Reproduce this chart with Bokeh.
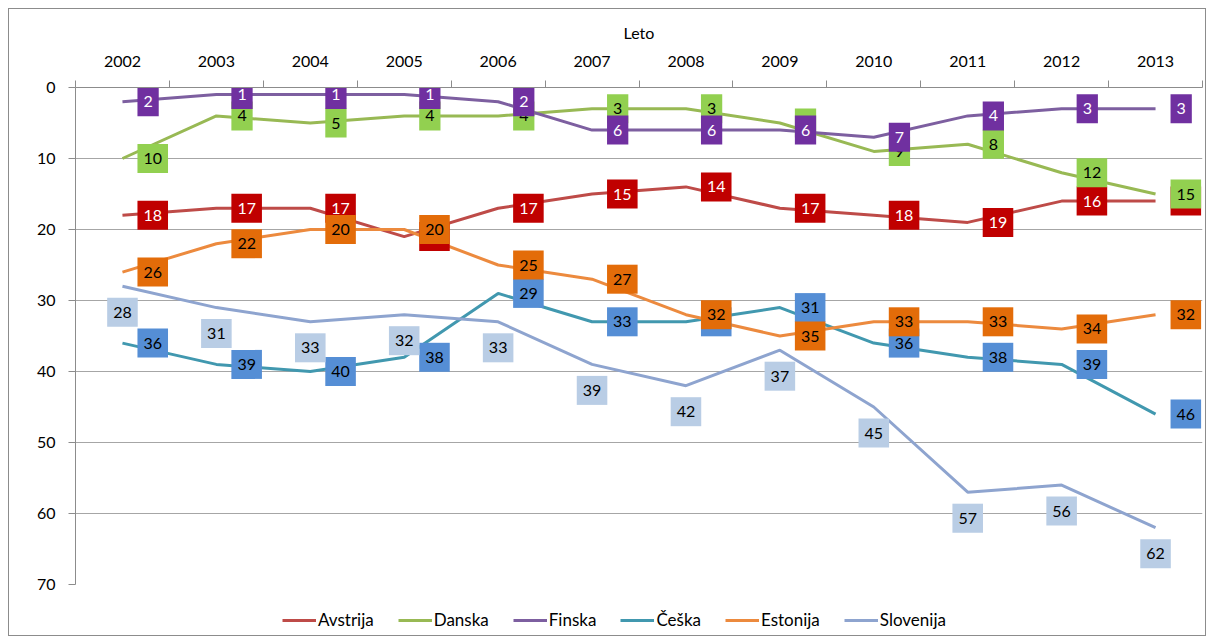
from bokeh.plotting import figure
from bokeh.layouts import column
from bokeh.models import Range1d, FixedTicker, Legend, LegendItem, ColumnDataSource
from bokeh.core.properties import value
from bokeh.embed import file_html
from bokeh.resources import INLINE

years = ["2002", "2003", "2004", "2005", "2006", "2007", "2008", "2009", "2010", "2011", "2012", "2013"]
avstrija = [18, 17, 17, 21, 17, 15, 14, 17, 18, 19, 16, 16]
danska = [10, 4, 5, 4, 4, 3, 3, 5, 9, 8, 12, 15]
finska = [2, 1, 1, 1, 2, 6, 6, 6, 7, 4, 3, 3]
ceska = [36, 39, 40, 38, 29, 33, 33, 31, 36, 38, 39, 46]
estonija = [26, 22, 20, 20, 25, 27, 32, 35, 33, 33, 34, 32]
slovenija = [28, 31, 33, 32, 33, 39, 42, 37, 45, 57, 56, 62]

series = [
    ("Avstrija", avstrija, "#BE4B48", "#C00000", "white"),
    ("Danska", danska, "#98B954", "#92D050", "black"),
    ("Finska", finska, "#7D5FA0", "#7030A0", "white"),
    ("Češka", ceska, "#4198AF", "#558ED5", "black"),
    ("Estonija", estonija, "#EC8A3E", "#E36C09", "black"),
    ("Slovenija", slovenija, "#8EA4CF", "#B9CDE5", "black"),
]

xs = list(range(len(years)))
FONT = "Lato"

p = figure(frame_width=1127, frame_height=497, output_backend="svg", toolbar_location=None,
           x_range=Range1d(-0.5, len(years) - 0.5), y_range=Range1d(70, 0),
           x_axis_location="above", min_border_left=66, min_border_right=3,
           min_border_top=78, min_border_bottom=10)
p.outline_line_color = None
p.background_fill_color = "white"
p.border_fill_color = "white"

# x axis (top)
xa = p.xaxis[0]
xa.ticker = FixedTicker(ticks=xs, minor_ticks=[i - 0.5 for i in range(len(years) + 1)])
xa.major_label_overrides = {i: y for i, y in enumerate(years)}
xa.major_tick_out = 0
xa.major_tick_in = 0
xa.minor_tick_out = 7
xa.minor_tick_in = 0
xa.minor_tick_line_color = "#8c8c8c"
xa.axis_line_color = "#8c8c8c"
xa.major_label_text_font = FONT
xa.major_label_text_font_size = "16px"
xa.major_label_text_color = "black"
xa.axis_label = "Leto"
xa.axis_label_text_font = FONT
xa.axis_label_text_font_size = "16px"
xa.axis_label_text_font_style = "normal"
xa.axis_label_text_color = "black"
xa.axis_label_standoff = 11
xa.major_label_standoff = 14

ya = p.yaxis[0]
ya.ticker = FixedTicker(ticks=[0, 10, 20, 30, 40, 50, 60, 70])
ya.major_tick_out = 7
ya.major_tick_in = 0
ya.minor_tick_out = 0
ya.minor_tick_in = 0
ya.axis_line_color = "#8c8c8c"
ya.major_tick_line_color = "#8c8c8c"
ya.major_label_text_font = FONT
ya.major_label_text_font_size = "16px"
ya.major_label_text_color = "black"
ya.major_label_standoff = 13

p.xgrid.grid_line_color = None
p.ygrid.grid_line_color = "#a6a6a6"
p.ygrid.grid_line_width = 1.2

for name, vals, lc, bc, tc in series:
    p.line(xs, vals, line_color=lc, line_width=3)

for name, vals, lc, bc, tc in series:
    src = ColumnDataSource(dict(x=xs, y=vals, t=[str(v) for v in vals]))
    if name == "Slovenija":
        p.text("x", "y", text="t", source=src, x_offset=0, y_offset=26,
               text_align="center", text_baseline="middle",
               text_font=value(FONT), text_font_size="16px", text_color=tc,
               background_fill_color=bc, padding=(6, 9))
    else:
        p.text("x", "y", text="t", source=src, x_offset=15, y_offset=0,
               text_align="left", text_baseline="middle",
               text_font=value(FONT), text_font_size="16px", text_color=tc,
               background_fill_color=bc, padding=(6, 9))

# legend strip below the chart (series lines kept out of its visible range)
lf = figure(width=1196, height=41, output_backend="svg", toolbar_location=None,
            x_range=Range1d(0, 1), y_range=Range1d(-2, -1), min_border=0)
lf.axis.visible = False
lf.grid.visible = False
lf.outline_line_color = None
lf.background_fill_color = "white"
lf.border_fill_color = "white"

items = []
for name, vals, lc, bc, tc in series:
    r = lf.line(xs, vals, line_color=lc, line_width=3)
    items.append(LegendItem(label=name, renderers=[r]))

legend = Legend(items=items, orientation="horizontal", location=(207, 5),
                glyph_width=34, glyph_height=16, label_standoff=2, spacing=24,
                padding=0, margin=0, border_line_color=None, background_fill_alpha=0,
                label_text_font=FONT, label_text_font_size="17px",
                label_text_color="black")
lf.add_layout(legend)

layout = column(p, lf, spacing=0)
layout.styles = {"margin-left": "8px", "margin-top": "8px", "border": "1px solid #8c8c8c"}

open("out.html", "w").write(file_html(layout, INLINE))
